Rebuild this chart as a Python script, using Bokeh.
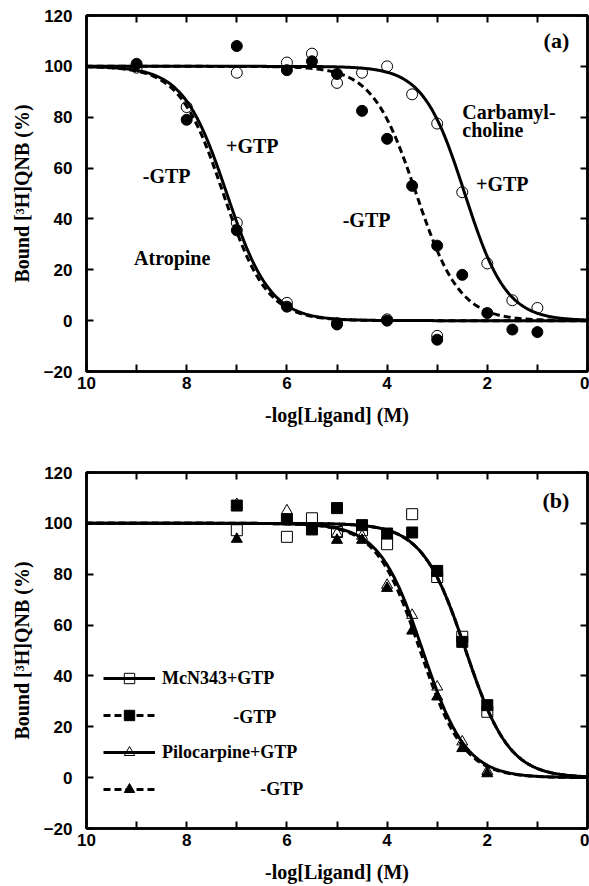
import numpy as np
from bokeh.plotting import figure
from bokeh.models import Range1d, FixedTicker, LinearAxis, Label, Legend, LegendItem
from bokeh.layouts import column
from bokeh.embed import file_html
from bokeh.resources import INLINE

# ---------------- data: panel (a) ----------------
atropine_x = [9, 8, 7, 6, 5, 4, 3]
atropine_plus_gtp = [99.5, 84, 38.5, 7, -1, 0.5, -6]
atropine_minus_gtp = [101, 79, 35.5, 5.5, -1.5, 0, -7.5]

carb_x = [7, 6, 5.5, 5, 4.5, 4, 3.5, 3, 2.5, 2, 1.5, 1]
carb_plus_gtp = [97.5, 101.5, 105, 93.5, 97.5, 100, 89, 77.5, 50.5, 22.5, 8, 5]
carb_minus_gtp = [108, 98.5, 102, 97, 82.5, 71.5, 53, 29.5, 18, 3, -3.5, -4.5]

# fitted one-site curves: pIC50 and Hill slope
fit_a_names = ["atr_plus", "atr_minus", "carb_plus", "carb_minus"]
fit_a_pic50 = [7.20, 7.27, 2.45, 3.42]
fit_a_hill = [1.0, 1.0, 1.05, 1.0]

# ---------------- data: panel (b) ----------------
mcn_x = [7, 6, 5.5, 5, 4.5, 4, 3.5, 3, 2.5, 2]
mcn_plus_gtp = [97.3, 94.7, 102, 96.6, 97.3, 91.8, 103.6, 78.9, 55.4, 25.9]
mcn_minus_gtp = [107, 101.6, 97.6, 106, 99.3, 96, 96.4, 81.3, 53.4, 28.5]

pilo_x = [7, 6, 5, 4.5, 4, 3.5, 3, 2.5, 2]
pilo_plus_gtp = [107.5, 105, 96, 95, 75.7, 63.9, 35.7, 14.1, 2.5]
pilo_minus_gtp = [93.8, 101, 93.4, 93.4, 74.5, 57.7, 31.8, 11.5, 1.6]

fit_b_names = ["mcn_plus", "mcn_minus", "pilo_plus", "pilo_minus"]
fit_b_pic50 = [2.43, 2.43, 3.29, 3.34]
fit_b_hill = [1.0, 1.0, 1.0, 1.0]

# ---------------- axes ----------------
x_ticks = [10, 8, 6, 4, 2, 0]
x_minor = [9, 7, 5, 3, 1]
y_ticks = [-20, 0, 20, 40, 60, 80, 100, 120]
x_label = "-log[Ligand] (M)"
y_label = "Bound [³H]QNB (%)"

SERIF = "Liberation Serif"
SANS = "Liberation Sans"

p_grid = np.linspace(0, 10, 501)


def fit_curve(pic50, hill):
    return 100.0 / (1.0 + 10.0 ** (hill * (pic50 - p_grid)))


def style_axis(ax):
    ax.axis_line_width = 2.5
    ax.axis_line_color = "black"
    ax.major_tick_in = 7
    ax.major_tick_out = 0
    ax.minor_tick_in = 7
    ax.minor_tick_out = 0
    ax.major_tick_line_width = 2
    ax.minor_tick_line_width = 2
    ax.major_label_text_font = SANS
    ax.major_label_text_font_style = "bold"
    ax.major_label_text_font_size = "17px"
    ax.major_label_text_color = "black"
    ax.axis_label_text_font = SERIF
    ax.axis_label_text_font_style = "bold"
    ax.axis_label_text_font_size = "20px"
    ax.axis_label_text_color = "black"


def make_fig(height, top, bottom):
    p = figure(width=589, height=height, x_range=Range1d(10, 0), y_range=Range1d(-20, 120),
               output_backend="svg", toolbar_location=None,
               min_border_left=86, min_border_right=2, min_border_top=top,
               min_border_bottom=bottom, x_axis_label=x_label, y_axis_label=y_label)
    p.grid.visible = False
    p.outline_line_color = "black"
    p.outline_line_width = 2.5
    p.background_fill_color = "white"
    p.border_fill_color = "white"
    xa = p.xaxis[0]
    ya = p.yaxis[0]
    xa.ticker = FixedTicker(ticks=x_ticks, minor_ticks=x_minor)
    ya.ticker = FixedTicker(ticks=y_ticks, minor_ticks=[])
    style_axis(xa)
    style_axis(ya)
    xa.major_label_standoff = 5
    xa.axis_label_standoff = 12
    ya.major_label_standoff = 14
    ya.axis_label_standoff = 8
    top_ax = LinearAxis(ticker=FixedTicker(ticks=x_ticks, minor_ticks=x_minor),
                        major_label_overrides={t: "" for t in x_ticks})
    right_ax = LinearAxis(ticker=FixedTicker(ticks=y_ticks, minor_ticks=[]),
                          major_label_overrides={t: "" for t in y_ticks})
    for ax in (top_ax, right_ax):
        style_axis(ax)
        ax.major_label_text_font_size = "1px"
        ax.major_label_standoff = 0
    p.add_layout(top_ax, "above")
    p.add_layout(right_ax, "right")
    return p


def add_label(p, x, y, text, align="center", size="20px"):
    p.add_layout(Label(x=x, y=y, text=text, text_font=SERIF, text_font_style="bold",
                       text_font_size=size, text_align=align, text_baseline="middle",
                       text_color="black"))


# ================= panel (a) =================
pa = make_fig(432, 15, 61)
pa.scatter(atropine_x, atropine_plus_gtp, marker="circle", size=11, fill_color=None,
           line_color="black", line_width=1)
pa.scatter(carb_x, carb_plus_gtp, marker="circle", size=11, fill_color=None,
           line_color="black", line_width=1)
for name, pic, h in zip(fit_a_names, fit_a_pic50, fit_a_hill):
    dash = "7 4" if name.endswith("minus") else "solid"
    pa.line(p_grid, fit_curve(pic, h), line_color="black", line_width=3, line_dash=dash)
pa.scatter(atropine_x, atropine_minus_gtp, marker="circle", size=11, fill_color="black",
           line_color="black")
pa.scatter(carb_x, carb_minus_gtp, marker="circle", size=11, fill_color="black",
           line_color="black")

add_label(pa, 8.40, 57, "-GTP")
add_label(pa, 6.69, 68.7, "+GTP")
add_label(pa, 8.29, 24.8, "Atropine")
add_label(pa, 2.50, 82, "Carbamyl-", align="left")
add_label(pa, 2.50, 75, "choline", align="left")
add_label(pa, 1.70, 53.7, "+GTP")
add_label(pa, 4.41, 39.4, "-GTP")
add_label(pa, 0.62, 110, "(a)", size="22px")

# ================= panel (b) =================
pb = make_fig(454, 40, 58)
curves_b = {}
for name, pic, h in zip(fit_b_names, fit_b_pic50, fit_b_hill):
    dash = "7 4" if name.endswith("minus") else "solid"
    curves_b[name] = pb.line(p_grid, fit_curve(pic, h), line_color="black", line_width=3,
                             line_dash=dash)
s_mcn_p = pb.scatter(mcn_x, mcn_plus_gtp, marker="square", size=11, fill_color=None,
                     line_color="black", line_width=1)
s_pilo_p = pb.scatter(pilo_x, pilo_plus_gtp, marker="triangle", size=11, fill_color=None,
                      line_color="black", line_width=1)
s_mcn_m = pb.scatter(mcn_x, mcn_minus_gtp, marker="square", size=11, fill_color="black",
                     line_color="black")
s_pilo_m = pb.scatter(pilo_x, pilo_minus_gtp, marker="triangle", size=11, fill_color="black",
                      line_color="black")

legend = Legend(items=[
    LegendItem(label="McN343+GTP", renderers=[curves_b["mcn_plus"], s_mcn_p]),
    LegendItem(label=" ", renderers=[curves_b["mcn_minus"], s_mcn_m]),
    LegendItem(label="Pilocarpine+GTP", renderers=[curves_b["pilo_plus"], s_pilo_p]),
    LegendItem(label=" ", renderers=[curves_b["pilo_minus"], s_pilo_m]),
], location=(17, 26))
legend.background_fill_alpha = 0
legend.border_line_alpha = 0
legend.padding = 0
legend.margin = 0
legend.spacing = 11
legend.glyph_width = 52
legend.glyph_height = 26
legend.label_height = 26
legend.label_standoff = 7
legend.label_text_font = SERIF
legend.label_text_font_style = "bold"
legend.label_text_font_size = "18px"
legend.label_text_color = "black"
pb.add_layout(legend)

add_label(pb, 7.07, 23.8, "-GTP", align="left", size="18px")
add_label(pb, 6.53, -4.5, "-GTP", align="left", size="18px")
add_label(pb, 0.63, 109, "(b)", size="22px")

layout = column(pa, pb, spacing=0)
open("out.html", "w").write(file_html(layout, INLINE))
